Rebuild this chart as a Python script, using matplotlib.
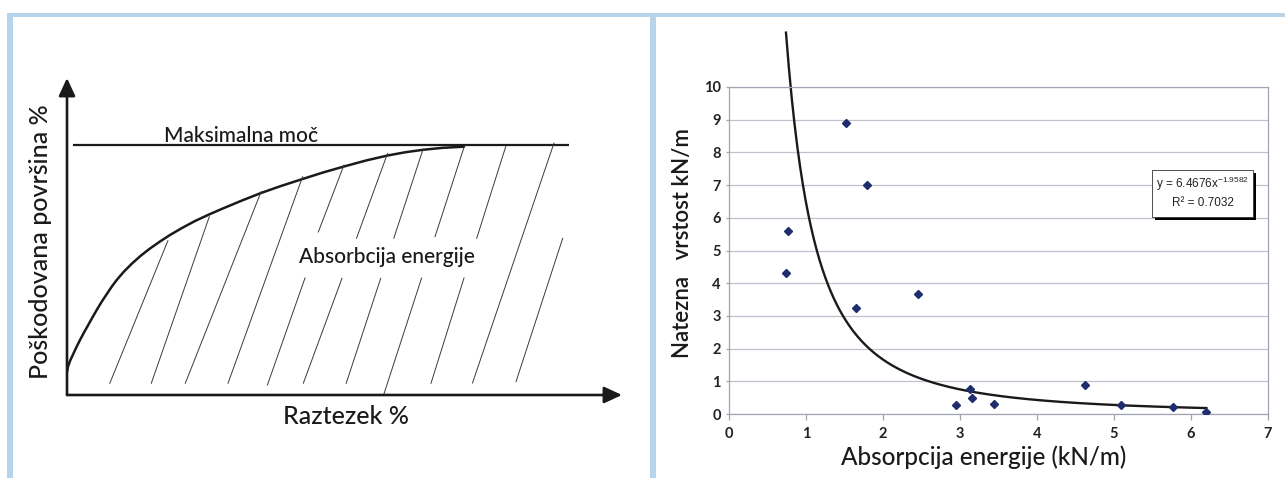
import matplotlib
matplotlib.use("Agg")
import matplotlib.pyplot as plt
from matplotlib.patches import Rectangle
import numpy as np

# ---- left panel: schematic, units (x: 0..555, y: 0..317) ----
curve_x = [0, 1, 3, 6, 9.5, 13, 17, 21.5, 25.5, 29.7, 34.5, 39.5, 44.5, 49.7,
           57, 65, 74, 83, 93, 103, 115, 128, 142, 157, 175, 194, 214, 235.6,
           256, 277, 299, 320.6, 338, 355.8, 376, 397]
curve_y = [23, 28.3, 34, 40.5, 48, 55, 62.5, 70.5, 77.7, 85, 93, 100.5, 108,
           115, 123.5, 131.5, 139.5, 146.5, 153.5, 160, 167, 174, 180.5, 187,
           194.5, 202, 209, 216, 222.5, 228.5, 234.5, 239.5, 242.7, 245.2,
           247.2, 248.3]
max_level = 250
max_x = [6, 502]

# hatch segments: (x_top, y_top, x_bottom, y_bottom)
hatch = [
    (100.9, 154.3, 42.8, 11.7),
    (142.3, 178.3, 84.3, 11.7),
    (194.1, 203.3, 118.3, 11.7),
    (235.6, 218.3, 161.0, 11.7),
    (277.0, 230.0, 251.3, 163.0),
    (238.0, 117.0, 200.4, 10.0),
    (320.6, 241.7, 289.5, 156.7),
    (275.0, 116.7, 236.3, 11.7),
    (355.8, 245.0, 326.8, 156.7),
    (313.7, 116.7, 279.2, 11.7),
    (397.2, 248.3, 368.0, 158.3),
    (354.6, 117.0, 316.6, 0.0),
    (438.7, 248.3, 409.7, 156.7),
    (397.0, 117.0, 364.0, 11.7),
    (487.0, 252.0, 405.5, 12.0),
    (495.7, 156.7, 449.0, 13.3),
]

# ---- right panel: scatter ----
energy = [1.52, 1.79, 0.76, 0.74, 1.65, 2.46, 3.13, 3.16, 2.95, 3.44,
          4.62, 5.09, 5.77, 6.20]
strength = [8.9, 7.0, 5.6, 4.3, 3.23, 3.68, 0.75, 0.48, 0.26, 0.31,
            0.89, 0.28, 0.20, 0.07]
coef_a = 6.4676
coef_b = -1.9582
r2 = 0.7032

plt.rcParams["font.family"] = ["Lato", "DejaVu Sans"]
plt.rcParams["mathtext.default"] = "regular"

W, H = 1285, 478
fig = plt.figure(figsize=(W / 100, H / 100), dpi=100)
fig.patch.set_facecolor("white")

blue = "#b8d4ea"
def px_rect(x0, y0, x1, y1):
    fig.add_artist(Rectangle((x0 / W, 1 - y1 / H), (x1 - x0) / W, (y1 - y0) / H,
                             transform=fig.transFigure, color=blue, lw=0))

px_rect(7, 13, W, 17)
px_rect(7, 13, 13, H)
px_rect(650, 13, 656, H)

# left schematic
ax1 = fig.add_axes([67 / W, 1 - 395 / H, 555 / W, 317 / H])
ax1.set_xlim(0, 555)
ax1.set_ylim(0, 317)
ax1.axis("off")
ink = "#1a1a1a"
arrow = dict(arrowstyle="-|>,head_length=0.54,head_width=0.25", mutation_scale=20,
             lw=1.9, color=ink, shrinkA=0, shrinkB=0)
ax1.annotate("", xy=(555, 0), xytext=(0, 0), arrowprops=arrow, annotation_clip=False)
ax1.annotate("", xy=(0, 317), xytext=(0, 0), arrowprops=arrow, annotation_clip=False)
ax1.plot(max_x, [max_level, max_level], color=ink, lw=1.6, solid_capstyle="butt")
ax1.plot(curve_x, curve_y, color=ink, lw=1.8, solid_capstyle="round",
         solid_joinstyle="round")
for xt, yt, xb, yb in hatch:
    ax1.plot([xt, xb], [yt, yb], color="#3a3a3a", lw=0.7, clip_on=False)

fig.text(241 / W, 1 - 142 / H, "Maksimalna moč", ha="center", va="baseline",
         fontsize=15, color=ink, fontweight=500)
fig.text(387 / W, 1 - 257 / H, "Absorbcija energije", ha="center", va="center",
         fontsize=15, color=ink, fontweight=500)
fig.text(346 / W, 1 - 416 / H, "Raztezek %", ha="center", va="center",
         fontsize=18, color=ink, fontweight=500)
fig.text(41 / W, 1 - 242 / H, "Poškodovana površina %", ha="center", va="center",
         rotation=90, fontsize=18, color=ink, fontweight=500)

# right scatter
ax2 = fig.add_axes([729 / W, 1 - 414 / H, 539 / W, 327 / H])
ax2.set_xlim(0, 7)
ax2.set_ylim(0, 10)
ax2.set_xticks(range(0, 8))
ax2.set_yticks(range(0, 11))
ax2.grid(axis="y", color="#bfc1cc", lw=0.9)
ax2.set_axisbelow(True)
for s in ax2.spines.values():
    s.set_color("#a2a4b2")
    s.set_linewidth(0.9)
ax2.tick_params(axis="x", length=4, width=0.9, color="#a2a4b2", pad=5,
                labelsize=10.5, labelcolor="#222222")
ax2.tick_params(axis="y", length=2, width=0.9, color="#a2a4b2", pad=4,
                labelsize=10.5, labelcolor="#222222")
for lab in ax2.get_xticklabels() + ax2.get_yticklabels():
    lab.set_fontweight("bold")

ax2.plot(energy, strength, ls="none", marker="D", ms=4.2, color="#1f2d6e", zorder=3)
fit_x = np.linspace(min(energy), max(energy), 300)
ax2.plot(fit_x, coef_a * fit_x ** coef_b, color=ink, lw=1.7, clip_on=False, zorder=2)

# trendline label box with shadow
bx0, by0, bw, bh = 0.785, 0.602, 0.187, 0.144
ax2.add_patch(Rectangle((bx0 + 0.0056, by0 - 0.0092), bw, bh, transform=ax2.transAxes,
                        color="black", lw=0, zorder=4))
ax2.add_patch(Rectangle((bx0, by0), bw, bh, transform=ax2.transAxes,
                        facecolor="white", edgecolor="#333333", lw=0.6, zorder=5))
ax2.text(bx0 + bw / 2, by0 + bh * 0.7, f"y = {coef_a}x$^{{{coef_b}}}$",
         transform=ax2.transAxes, ha="center", va="center", fontsize=8.5,
         family="Liberation Sans", color="#222222", zorder=6)
ax2.text(bx0 + bw / 2, by0 + bh * 0.3, f"R² = {r2}",
         transform=ax2.transAxes, ha="center", va="center", fontsize=8.5,
         family="Liberation Sans", color="#222222", zorder=6)

fig.text(683 / W, 1 - 243 / H, "Natezna   vrstost kN/m", ha="center", va="center",
         rotation=90, fontsize=16, color=ink, fontweight=600)
fig.text(984 / W, 1 - 457 / H, "Absorpcija energije (kN/m)", ha="center", va="center",
         fontsize=17.5, color=ink, fontweight=500)

fig.savefig("out.png", dpi=100, facecolor="white")
